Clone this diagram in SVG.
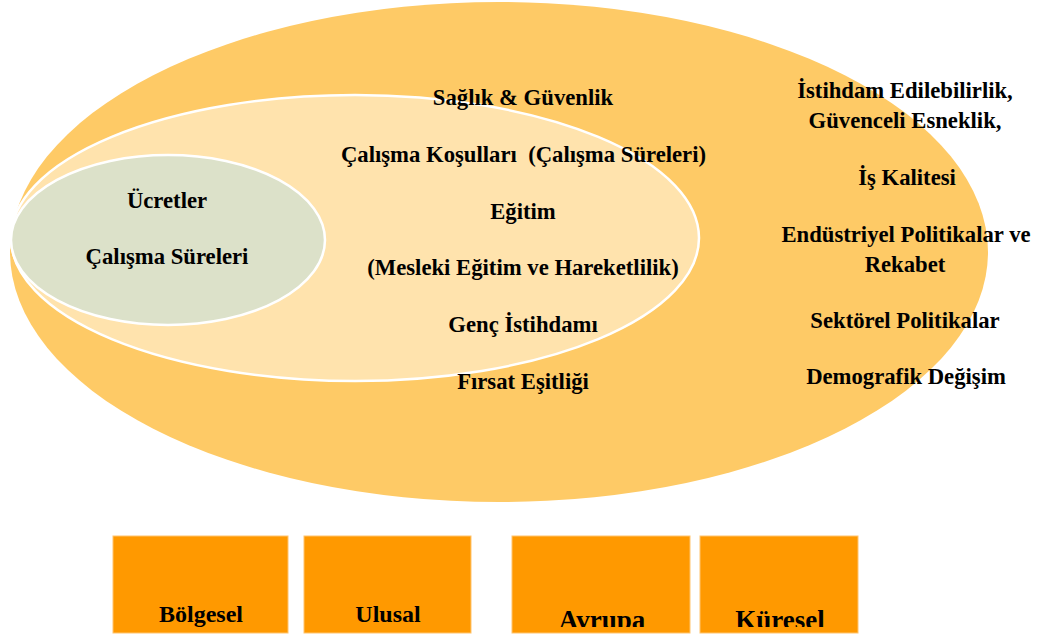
<svg xmlns="http://www.w3.org/2000/svg" width="1045" height="637" viewBox="0 0 1045 637">
<defs>
<style>
.t{font-family:"Liberation Serif","Times New Roman",serif;font-weight:bold;font-size:22.7px;fill:#000;text-anchor:middle}
.b{fill:#FF9900;stroke:#FFC46E;stroke-width:1}
</style>
<clipPath id="clipBottom"><rect x="0" y="0" width="1045" height="627"/></clipPath>
</defs>
<rect width="1045" height="637" fill="#fff"/>
<g id="outer">
<ellipse cx="499" cy="252" rx="489" ry="250" fill="#FECA66"/>
</g>
<g id="middle">
<ellipse cx="355" cy="238" rx="344" ry="143" fill="#FFE3AD" stroke="#fff" stroke-width="2.5"/>
</g>
<g id="inner">
<ellipse cx="168" cy="240" rx="157" ry="85" fill="#DCE1C9" stroke="#fff" stroke-width="2.5"/>
<text class="t" x="167" y="208">Ücretler</text>
<text class="t" x="167" y="264">Çalışma Süreleri</text>
</g>
<g id="middle-labels">
<text class="t" x="523" y="105">Sağlık &amp; Güvenlik</text>
<text class="t" x="523.5" y="162" xml:space="preserve">Çalışma Koşulları  (Çalışma Süreleri)</text>
<text class="t" x="523" y="219">Eğitim</text>
<text class="t" x="523" y="275">(Mesleki Eğitim ve Hareketlilik)</text>
<text class="t" x="523" y="332">Genç İstihdamı</text>
<text class="t" x="523" y="389">Fırsat Eşitliği</text>
</g>
<g id="outer-labels">
<text class="t" x="905" y="98">İstihdam Edilebilirlik,</text>
<text class="t" x="905" y="128">Güvenceli Esneklik,</text>
<text class="t" x="907" y="185">İş Kalitesi</text>
<text class="t" x="906" y="242">Endüstriyel Politikalar ve</text>
<text class="t" x="905" y="272">Rekabet</text>
<text class="t" x="905" y="328">Sektörel Politikalar</text>
<text class="t" x="906" y="384">Demografik Değişim</text>
</g>
<g id="box-bolgesel">
<rect class="b" x="113" y="536" width="175" height="97"/>
<text class="t" x="201" y="622" style="font-size:24px">Bölgesel</text>
</g>
<g id="box-ulusal">
<rect class="b" x="304" y="536" width="167" height="97"/>
<text class="t" x="388" y="622" style="font-size:24px">Ulusal</text>
</g>
<g id="box-avrupa">
<rect class="b" x="512" y="536" width="178" height="97"/>
<text class="t" x="602" y="629" clip-path="url(#clipBottom)" style="font-size:27px">Avrupa</text>
</g>
<g id="box-kuresel">
<rect class="b" x="700" y="536" width="158" height="97"/>
<text class="t" x="780" y="629" clip-path="url(#clipBottom)" style="font-size:27px">Küresel</text>
</g>
<g id="connectors"></g>
</svg>
